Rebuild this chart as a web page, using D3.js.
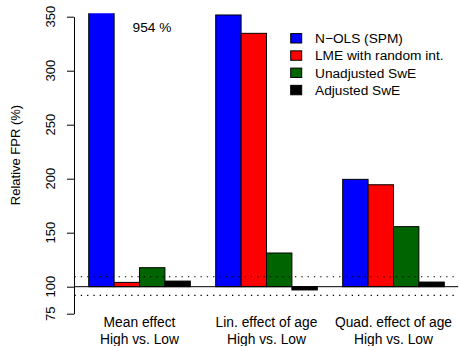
<!DOCTYPE html>
<html><head><meta charset="utf-8">
<script src="https://cdn.jsdelivr.net/npm/d3@7"></script>
<style>body{margin:0;background:#fff}svg{display:block}text{font-family:"Liberation Sans",Arial,sans-serif}</style>
</head><body>
<script>
const categories = ["Mean effect\nHigh vs. Low", "Lin. effect of age\nHigh vs. Low", "Quad. effect of age\nHigh vs. Low"];
const seriesNames = ["N\u2212OLS (SPM)", "LME with random int.", "Unadjusted SwE", "Adjusted SwE"];
const seriesColors = ["#0000ff", "#ff0000", "#006400", "#000000"];
const nolsValues = [954, 351.6, 199.4];
const lmeValues = [104, 334.6, 194.4];
const unadjSwEValues = [117.6, 131.2, 155.6];
const adjSwEValues = [105.2, 97, 104.3];
const yTicks = [75, 100, 150, 200, 250, 300, 350];
const refLines = [109.2, 92];
const annotation = "954 %";

(function () {
const series = [nolsValues, lmeValues, unadjSwEValues, adjSwEValues];
const W = 459, H = 346;
const svg = d3.select("body").append("svg").attr("width", W).attr("height", H);

const pLeft = 74.5, pRight = 458.5, pTop = 13.3;
const y = d3.scaleLinear().domain([75, 350]).range([313.7, 16.7]);
const x = d3.scaleLinear().domain([0.44, 15.56]).range([pLeft, pRight]);

svg.append("defs").append("clipPath").attr("id", "clip")
  .append("rect").attr("x", pLeft).attr("y", pTop).attr("width", pRight - pLeft).attr("height", 340 - pTop);

const g = svg.append("g").attr("clip-path", "url(#clip)");

categories.forEach((c, ci) => {
  series.forEach((s, si) => {
    const l = 1 + ci * 5 + si;
    const v = s[ci];
    g.append("rect")
      .attr("x", x(l)).attr("width", x(l + 1) - x(l))
      .attr("y", Math.min(y(v), y(100)))
      .attr("height", Math.abs(y(v) - y(100)))
      .attr("fill", seriesColors[si])
      .attr("stroke", "#000").attr("stroke-width", 1);
  });
});

g.append("line").attr("x1", pLeft).attr("x2", pRight).attr("y1", y(100)).attr("y2", y(100))
  .attr("stroke", "#000").attr("stroke-width", 1);
refLines.forEach(v => {
  g.append("line").attr("x1", pLeft).attr("x2", pRight).attr("y1", y(v)).attr("y2", y(v))
    .attr("stroke", "#000").attr("stroke-width", 1.1).attr("stroke-dasharray", "1.3,5");
});

const axisG = svg.append("g").attr("transform", `translate(${pLeft - 0.5},0)`)
  .call(d3.axisLeft(y).tickValues(yTicks).tickSize(7).tickSizeOuter(0).tickFormat(d3.format("d")));
axisG.select(".domain").attr("stroke", "#000");
axisG.selectAll(".tick line").attr("stroke", "#000");
axisG.selectAll(".tick text").remove();
yTicks.forEach(t => {
  svg.append("text").attr("transform", `translate(55,${y(t)}) rotate(-90)`)
    .attr("text-anchor", "middle").attr("font-size", 13).attr("fill", "#000").text(t);
});

svg.append("text").attr("transform", "translate(20,155) rotate(-90)")
  .attr("text-anchor", "middle").attr("font-size", 13).text("Relative FPR (%)");

categories.forEach((c, ci) => {
  const cx = (x(1 + ci * 5) + x(5 + ci * 5)) / 2;
  c.split("\n").forEach((line, li) => {
    svg.append("text").attr("x", cx).attr("y", 327.3 + li * 16.8)
      .attr("text-anchor", "middle").attr("font-size", 13.8).text(line);
  });
});

svg.append("text").attr("x", 152).attr("y", 31.5).attr("text-anchor", "middle")
  .attr("font-size", 13.7).text(annotation);

seriesNames.forEach((n, i) => {
  const cy = 38.3 + i * 17.25;
  svg.append("rect").attr("x", 290.7).attr("y", cy - 4.7).attr("width", 11).attr("height", 9.4)
    .attr("fill", seriesColors[i]).attr("stroke", "#000").attr("stroke-width", 1);
  svg.append("text").attr("x", 315).attr("y", cy).attr("dy", "0.36em")
    .attr("font-size", 13.7).text(n);
});
})();
</script>
</body></html>
